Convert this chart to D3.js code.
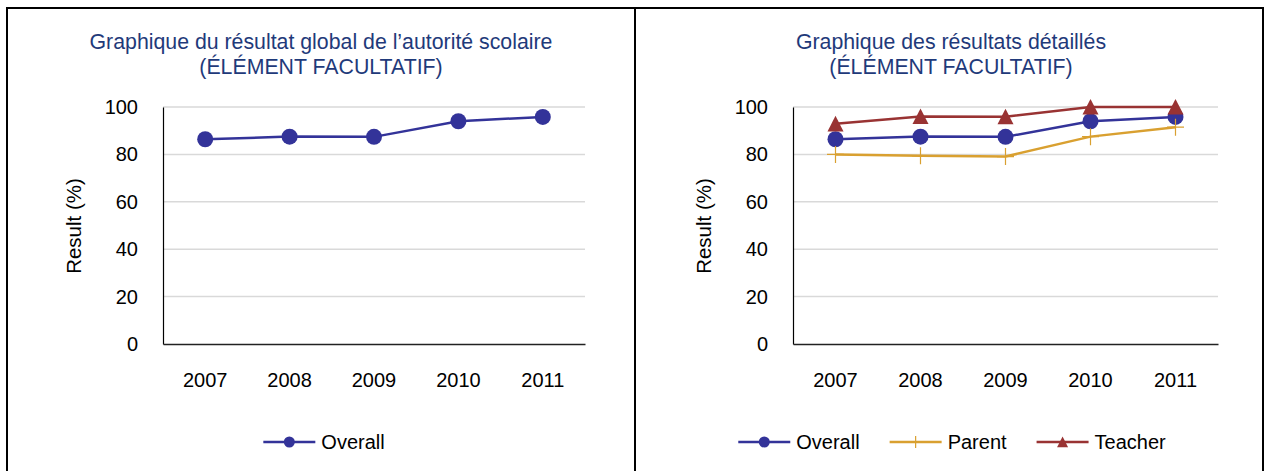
<!DOCTYPE html>
<html>
<head>
<meta charset="utf-8">
<script src="https://cdn.jsdelivr.net/npm/d3@7"></script>
<style>
  body { margin: 0; background: #fff; }
  svg { display: block; font-family: "Liberation Sans", Arial, Helvetica, sans-serif; }
</style>
</head>
<body>
<svg id="chart" width="1265" height="471"></svg>
<script>
  'use strict';

  // data
  var years = ['2007', '2008', '2009', '2010', '2011'];
  var overall = [86.4, 87.5, 87.4, 94.0, 95.8];
  var parent = [80.0, 79.4, 79.1, 87.5, 91.5];
  var teacher = [92.9, 96.0, 95.9, 100, 100];
  var yTicks = [0, 20, 40, 60, 80, 100];

  var titleLeft = ['Graphique du résultat global de l\u2019autorité scolaire', '(ÉLÉMENT FACULTATIF)'];
  var titleRight = ['Graphique des résultats détaillés', '(ÉLÉMENT FACULTATIF)'];

  var colors = { Overall: '#333399', Parent: '#D9A030', Teacher: '#993333' };

  var svg = d3.select('#chart');
  svg.append('rect').attr('width', 1265).attr('height', 471).attr('fill', '#fff');

  // outer frame of the two cells
  svg.append('path')
    .attr('d', 'M7,480 V8 H1263 V480 M635,8 V480')
    .attr('fill', 'none')
    .attr('stroke', '#000')
    .attr('stroke-width', 2);

  var markerPath = function(name, s) {
    if (name === 'Overall') return d3.symbol(d3.symbolCircle, Math.PI * s * s)();
    if (name === 'Teacher') return 'M0,' + (-s) + 'L' + s + ',' + (s * 0.95) + 'L' + (-s) + ',' + (s * 0.95) + 'Z';
    return 'M' + (-s) + ',0H' + s + 'M0,' + (-s) + 'V' + s;
  };

  var drawMarker = function(g, name, x, y, s) {
    var p = g.append('path')
      .attr('transform', 'translate(' + x + ',' + y + ')')
      .attr('d', markerPath(name, s));
    if (name === 'Parent') {
      p.attr('fill', 'none').attr('stroke', colors[name]).attr('stroke-width', 1.2);
    } else {
      p.attr('fill', colors[name]);
    }
  };

  var drawPanel = function(opt) {
    var g = svg.append('g');

    var x = d3.scaleBand().domain(years).range([opt.left, opt.right]);
    var y = d3.scaleLinear().domain([0, 100]).range([344, 107]);

    // title
    g.selectAll('.title').data(opt.title).enter().append('text')
      .attr('x', opt.titleX)
      .attr('y', function(d, i) { return 49 + i * 25; })
      .attr('text-anchor', 'middle')
      .attr('fill', '#1F3A7A')
      .style('font-size', '21.3px')
      .text(function(d) { return d; });

    // gridlines
    g.selectAll('.grid').data(yTicks.slice(1)).enter().append('line')
      .attr('x1', opt.left).attr('x2', opt.right)
      .attr('y1', function(d) { return y(d); })
      .attr('y2', function(d) { return y(d); })
      .attr('stroke', '#D9D9D9')
      .attr('stroke-width', 1.5);

    // y axis
    var yAxis = g.append('g')
      .attr('transform', 'translate(' + opt.left + ',0)')
      .call(d3.axisLeft(y).tickValues(yTicks).tickSize(0).tickPadding(25));
    yAxis.select('.domain').attr('stroke', '#000').attr('stroke-width', 1.2);
    yAxis.selectAll('text').style('font-size', '20px').attr('fill', '#000');

    // x axis
    var xAxis = g.append('g')
      .attr('transform', 'translate(0,' + y(0) + ')')
      .call(d3.axisBottom(x).tickSize(0).tickPadding(29));
    xAxis.select('.domain').attr('stroke', '#222').attr('stroke-width', 1.5);
    xAxis.selectAll('text').style('font-size', '20px').attr('fill', '#000');

    // axis title
    g.append('text')
      .attr('transform', 'translate(' + opt.axisTitleX + ',226) rotate(-90)')
      .attr('text-anchor', 'middle')
      .attr('dominant-baseline', 'central')
      .style('font-size', '20.5px')
      .text('Result (%)');

    var line = d3.line()
      .x(function(d, i) { return x(years[i]) + x.bandwidth() / 2; })
      .y(function(d) { return y(d); });

    opt.series.forEach(function(s) {
      g.append('path')
        .datum(s.values)
        .attr('d', line)
        .attr('fill', 'none')
        .attr('stroke', colors[s.name])
        .attr('stroke-width', 2.5);
    });
    opt.series.forEach(function(s) {
      s.values.forEach(function(v, i) {
        drawMarker(g, s.name, x(years[i]) + x.bandwidth() / 2, y(v), s.name === 'Parent' ? 8.5 : 8);
      });
    });

    // legend
    var leg = g.append('g');
    var pos = 0;
    opt.series.forEach(function(s) {
      var item = leg.append('g').attr('transform', 'translate(' + pos + ',0)');
      item.append('line')
        .attr('x1', 0).attr('x2', 52)
        .attr('stroke', colors[s.name]).attr('stroke-width', 2.5);
      drawMarker(item, s.name, 26, 0, s.name === 'Parent' ? 6 : 5.5);
      var t = item.append('text')
        .attr('x', 58)
        .attr('dominant-baseline', 'central')
        .style('font-size', '20px')
        .text(s.name);
      pos += 58 + t.node().getComputedTextLength() + 30;
    });
    var w = pos - 30;
    leg.attr('transform', 'translate(' + (opt.legendCenter - w / 2) + ',442)');
  };

  drawPanel({
    left: 163, right: 585, titleX: 321, axisTitleX: 73, legendCenter: 324,
    title: titleLeft,
    series: [{ name: 'Overall', values: overall }]
  });

  drawPanel({
    left: 793, right: 1218, titleX: 951, axisTitleX: 703, legendCenter: 952,
    title: titleRight,
    series: [
      { name: 'Overall', values: overall },
      { name: 'Parent', values: parent },
      { name: 'Teacher', values: teacher }
    ]
  });
</script>
</body>
</html>
